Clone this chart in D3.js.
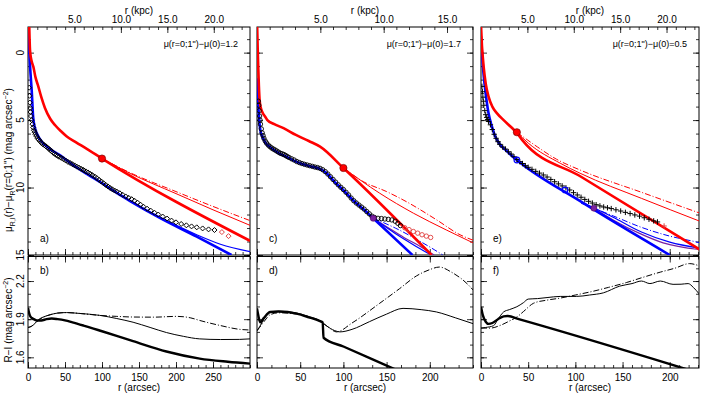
<!DOCTYPE html>
<html><head><meta charset="utf-8">
<script src="https://cdn.jsdelivr.net/npm/d3@7"></script>
<style>body{margin:0;background:#fff;} svg{display:block;font-family:"Liberation Sans",Arial,Helvetica,sans-serif;}</style>
</head><body><svg id="c" width="702" height="395"></svg>
<script>
// ---------------- DATA ----------------
// panel a (top-left) : r (arcsec), mu
const aData = [[1.5,2.6],[2,3.2],[2.5,3.7],[3,4.1],[3.5,4.4],[4,4.7],[5,5.0],[6,5.3],[7,5.55],[8,5.75],[9,5.9],[10,6.05],[11.5,6.2],[13,6.35],[14.5,6.45],[16,6.55],[18,6.68],[20,6.78],[22,6.86],[24,6.94],[26,7.02],[28,7.12],[30,7.22],[32,7.32],[34,7.42],[36,7.5],[38,7.58],[40,7.65],[42,7.72],[45,7.8],[48,7.9],[51,8.0],[54,8.1],[57,8.18],[60,8.27],[63,8.36],[66,8.45],[69,8.53],[72,8.62],[75,8.7],[78,8.8],[81,8.88],[84,8.98],[87,9.08],[90,9.18],[93,9.3],[96,9.42],[99,9.55],[102,9.68],[105,9.8],[108,9.92],[111,10.03],[114,10.13],[117,10.22],[120,10.3],[124,10.42],[128,10.54],[132,10.66],[136,10.76],[140,10.86],[144,10.98],[148,11.12],[152,11.27],[156,11.42],[161,11.57],[166,11.72],[171,11.87],[176,12.0],[182,12.15],[188,12.3],[194,12.45],[200,12.58],[207,12.7],[214,12.8],[221,12.88],[228,12.95],[236,13.03],[244,13.1],[252,13.15]];
const aDataOut = [[262,13.3],[271,13.6]];
const aRedThick = [[1.7,-1.9],[2.7,-0.2],[4,0.4],[5.5,0.75],[7.2,1.04],[10,1.8],[13.9,2.5],[18,3.3],[22.9,4.1],[30,4.9],[37,5.4],[45,5.85],[52,6.2],[65,6.65],[80,7.15],[100,7.85],[300,13.95]];
const aRedThin = [[100,7.85],[138,8.95],[200,10.45],[250,11.65],[300,12.8]];
const aRedDash = [[100,7.85],[138,8.9],[200,10.3],[250,11.4],[300,12.45]];
const aBlueThick = [[0.3,-1.9],[1.5,-0.4],[3,1.2],[5,2.8],[7,4.8],[9,5.5],[12,6.0],[16,6.4],[22,6.8],[30,7.15],[43,7.6],[60,8.3],[80,9.0],[100,9.68],[120,10.4],[138,11.0],[180,12.3],[228,13.64],[275,15.0]];
const aBlueThin = [[100,9.68],[138,11.0],[180,12.25],[228,13.5],[260,14.2],[300,14.75]];
const aBlueDash = [];
const aPurple = [];
const aDot = [100,7.85];
const aRings = [];

// panel c (top-middle)
const cData = [[1.5,3.6],[2,3.9],[2.5,4.3],[3,4.7],[3.5,5.0],[4,5.3],[5,5.65],[6,5.95],[7,6.15],[8,6.35],[9.5,6.55],[11,6.7],[13,6.85],[15,6.97],[17,7.07],[19,7.15],[21,7.22],[23,7.3],[25,7.38],[27,7.46],[29,7.5],[31,7.55],[33,7.62],[35,7.7],[37,7.77],[40,7.87],[43,7.96],[46,8.07],[49,8.15],[52,8.22],[55,8.28],[58,8.33],[61,8.38],[64,8.43],[67,8.48],[70,8.52],[73,8.58],[76,8.68],[79,8.82],[82,9.0],[85,9.2],[88,9.4],[91,9.6],[94,9.8],[97,9.98],[100,10.15],[103,10.35],[106,10.55],[109,10.78],[112,10.98],[115,11.15],[118,11.3],[121,11.45],[124,11.6],[127,11.78],[130,11.95],[133,12.12],[136,12.22],[140,12.28],[144,12.3],[148,12.33],[152,12.36],[156,12.4],[160,12.5],[163,12.65],[166,12.82]];
const cDataOut = [[171,12.98],[176,13.12],[181,13.26],[186,13.38],[191,13.5],[196,13.6],[201,13.7]];
const cRedThick = [[0.2,-1.9],[0.8,-0.3],[1.5,1.2],[2.2,2.5],[3,3.5],[4.5,4.1],[6.5,4.45],[9.5,4.75],[12,5.0],[20,5.3],[30.7,5.6],[45,6.1],[60,6.55],[73,6.97],[100,8.55],[202,15.0]];
const cRedThin = [[100,8.55],[142,10.42],[181,11.9],[219,13.14],[250,14.1]];
const cRedDash = [[100,8.55],[123,9.56],[150,10.3],[173,11.05],[208,12.4],[235,13.5],[250,13.9]];
const cBlueThick = [[0,1.9],[1,3.3],[2,4.5],[3,5.3],[4,5.8],[6,6.2],[10,6.7],[15,7.0],[25,7.45],[35,7.75],[46,8.1],[60,8.4],[73,8.62],[80,8.9],[90,9.6],[100,10.2],[112,11.0],[124,11.65],[134.5,12.28],[180,15.0]];
const cBlueThin = [[134.5,12.28],[160,13.4],[180,14.2],[200,14.95]];
const cBlueDash = [[134.5,12.28],[160,13.0],[185,13.85],[205,14.6],[215,15.0]];
const cPurple = [[134.5,12.28],[150,12.9],[170,13.7],[190,14.4],[205,15.0]];
const cDot = [100,8.55];
const cRings = [[134.5,12.28]];

// panel e (top-right)
const eData = [[1,2.5],[1.5,2.9],[2,3.3],[2.5,3.6],[3,3.9],[4,4.3],[5,4.6],[6,4.8],[7,4.95],[8,5.1],[10,5.35],[12,5.7],[14,6.05],[16,6.35],[18,6.6],[20,6.8],[23,7.0],[26,7.15],[29,7.35],[32,7.52],[35,7.72],[38,7.92],[41,8.08],[44,8.22],[47,8.38],[50,8.5],[54,8.65],[58,8.8],[62,8.93],[66,9.07],[70,9.22],[74,9.4],[78,9.57],[82,9.73],[86,9.88],[90,10.02],[94,10.18],[98,10.38],[102,10.55],[106,10.72],[110,10.88],[114,11.02],[118,11.15],[122,11.27],[126,11.36],[130,11.44],[134,11.5],[138,11.56],[143,11.65],[148,11.74],[153,11.84],[158,11.93],[163,12.03],[168,12.12],[173,12.24],[178,12.35],[183,12.47],[187,12.55]];
const eDataOut = [[194,12.85]];
const eRedThick = [[0.1,-1.9],[1,-0.5],[2,0.4],[2.8,1.04],[5,2.3],[8,3.26],[12,4.0],[17,4.5],[24,5.0],[30,5.4],[34.5,5.7],[38,5.95],[44,6.5],[106,9.2],[232,14.6]];
const eRedThin = [[38,5.9],[50,6.7],[84,8.2],[105,8.94],[170,10.8],[232,12.5]];
const eRedDash = [[38,5.9],[60,7.0],[80,7.9],[105,8.7],[170,10.35],[232,11.9]];
const eBlueThick = [[0,-1.2],[1,0.0],[2,1.0],[3,1.8],[4.5,2.77],[6,3.6],[8,4.5],[11.6,5.49],[15,6.2],[20,6.8],[26,7.2],[32,7.6],[38,7.96],[106,11.05],[200,15.0]];
const eBlueThin = [[106,11.05],[140,12.2],[170,13.3],[200,14.05],[232,14.5]];
const eBlueDash = [[106,11.16],[140,12.1],[170,12.95],[200,13.6],[226,14.0],[232,14.1]];
const ePurple = [[119.6,11.53],[140,12.4],[168,13.4],[193,14.1],[232,14.6]];
const eDot = [38,5.9];
const eRings = [[119.6,11.53]];
const eBlueRings = [[38,7.96],[89,10.18]];

// colour panels (R-I)
const bThick = [[0,1.99],[1,1.96],[2.5,1.93],[5,1.91],[8,1.9],[12,1.89],[18,1.89],[25,1.9],[32,1.905],[40,1.9],[50,1.89],[60,1.875],[75,1.85],[100,1.805],[142,1.727],[187,1.646],[232,1.59],[270,1.565],[300,1.55]];
const bThin = [[0,1.835],[5,1.845],[10,1.87],[15,1.9],[20.7,1.917],[30,1.935],[40,1.948],[52,1.952],[70,1.945],[97,1.93],[120,1.905],[142,1.876],[165,1.835],[187,1.795],[210,1.765],[232,1.745],[260,1.74],[286,1.741],[300,1.745]];
const bDash = [[0,1.835],[5,1.845],[10,1.87],[15,1.895],[20.7,1.915],[30,1.935],[40,1.948],[52,1.952],[70,1.945],[97,1.93],[120,1.922],[142,1.917],[170,1.916],[201,1.922],[220,1.91],[232,1.89],[260,1.85],[286,1.82],[300,1.815]];
const dThick = [[0,1.985],[1.5,1.93],[3.8,1.876],[8,1.91],[15.3,1.957],[25,1.96],[46,1.944],[60,1.915],[73,1.884],[76,1.875],[77,1.754],[100,1.685],[165,1.49]];
const dThin = [[0,1.809],[3,1.84],[8,1.9],[15.3,1.957],[25,1.962],[46,1.948],[60,1.92],[73,1.888],[80,1.85],[90,1.81],[96,1.80],[110,1.82],[130,1.88],[150,1.94],[169,1.985],[190,1.975],[207.6,1.957],[230,1.91],[250,1.865]];
const dDash = [[0,1.809],[3,1.835],[8,1.88],[15.3,1.935],[25,1.95],[46,1.94],[60,1.915],[73,1.885],[82,1.84],[92,1.80],[110,1.87],[142,2.025],[165,2.14],[184.5,2.24],[200,2.29],[211,2.31],[225,2.27],[246,2.16],[250,2.13]];
const fThick = [[0,1.998],[2,1.93],[5,1.88],[8,1.863],[12,1.87],[18,1.9],[24,1.922],[28,1.925],[40,1.9],[225,1.49]];
const fThin = [[0,1.83],[5,1.835],[13.3,1.849],[18,1.9],[24,1.957],[30,1.975],[38,1.998],[45,2.03],[50,2.058],[60,2.062],[70,2.07],[84,2.079],[101,2.079],[115,2.09],[129.6,2.107],[147,2.16],[160,2.18],[170,2.20],[179,2.18],[190,2.20],[203.5,2.174],[212,2.175],[219.5,2.18],[225,2.15],[231,2.1]];
const fDash = [[0,1.83],[10,1.83],[20,1.85],[30,1.885],[38,1.917],[45,1.96],[55.6,2.025],[70,2.05],[84,2.066],[100,2.09],[119,2.12],[135,2.15],[154,2.188],[172,2.23],[190,2.27],[205,2.3],[221,2.337],[231,2.32]];

const annotations = ["μ(r=0;1\")−μ(0)=1.2","μ(r=0;1\")−μ(0)=1.7","μ(r=0;1\")−μ(0)=0.5"];
const topLabels = ["a)","c)","e)"];
const botLabels = ["b)","d)","f)"];
const kpcTicks = [[5,10,15,20],[5,10,15],[5,10,15,20]];
const arcTicks = [[0,50,100,150,200,250],[0,50,100,150,200],[0,50,100,150,200]];
const muTicks = [0,5,10,15];
const riTicks = [1.6,1.9,2.2];

// ---------------- LAYOUT ----------------
const L = [
  {x0:28, x1:250, rmax:300, kpcMax:23.9, arcMinor:10, marker:"diamond"},
  {x0:257, x1:473, rmax:250, kpcMax:17.05, arcMinor:50/3, marker:"circle"},
  {x0:481, x1:699, rmax:231, kpcMax:23.5, arcMinor:10, marker:"plus"}
];
const sets = [
  {data:aData,out:aDataOut,rt:aRedThick,rn:aRedThin,rd:aRedDash,bt:aBlueThick,bn:aBlueThin,bd:aBlueDash,pu:aPurple,dot:aDot,rings:aRings,brings:[],ct:bThick,cn:bThin,cd:bDash},
  {data:cData,out:cDataOut,rt:cRedThick,rn:cRedThin,rd:cRedDash,bt:cBlueThick,bn:cBlueThin,bd:cBlueDash,pu:cPurple,dot:cDot,rings:cRings,brings:[],ct:dThick,cn:dThin,cd:dDash},
  {data:eData,out:eDataOut,rt:eRedThick,rn:eRedThin,rd:eRedDash,bt:eBlueThick,bn:eBlueThin,bd:eBlueDash,pu:ePurple,dot:eDot,rings:eRings,brings:eBlueRings,ct:fThick,cn:fThin,cd:fDash}
];
const TY0=27, TY1=255, BY0=256.5, BY1=368;
const RED="#ff0000", BLUE="#0000ff", PURPLE="#7a1fa0";
const svg = d3.select("#c");
const yT = d3.scaleLinear().domain([-1.9,15]).range([TY0,TY1]);
const yB = d3.scaleLinear().domain([1.516,2.393]).range([BY1,BY0]);
const FS = 10;

function styleAxis(g){ g.select(".domain").remove(); g.selectAll("line").attr("stroke","#000").attr("stroke-width",0.8);
  g.selectAll("text").attr("font-family","Liberation Sans, Arial, sans-serif").attr("font-size",FS).attr("fill","#000"); }

L.forEach((P,i)=>{
  const S = sets[i];
  const x = d3.scaleLinear().domain([0,P.rmax]).range([P.x0,P.x1]);
  const xk = d3.scaleLinear().domain([0,P.kpcMax]).range([P.x0,P.x1]);
  const arcMinor = d3.range(0,P.rmax+0.01,P.arcMinor);
  const kpcMinor = d3.range(0,P.kpcMax,1);
  svg.append("clipPath").attr("id","ct"+i).append("rect").attr("x",P.x0).attr("y",TY0).attr("width",P.x1-P.x0).attr("height",TY1-TY0);
  svg.append("clipPath").attr("id","cb"+i).append("rect").attr("x",P.x0).attr("y",BY0).attr("width",P.x1-P.x0).attr("height",BY1-BY0);

  const add=(ax,tr)=>styleAxis(svg.append("g").attr("transform",tr).call(ax));
  add(d3.axisBottom(x).tickValues(arcTicks[i]).tickSize(-6).tickFormat(""),`translate(0,${TY1})`);
  add(d3.axisBottom(x).tickValues(arcMinor).tickSize(-3).tickFormat(""),`translate(0,${TY1})`);
  add(d3.axisTop(xk).tickValues(kpcTicks[i]).tickSize(-6).tickPadding(4).tickFormat(d3.format(".1f")),`translate(0,${TY0})`);
  add(d3.axisTop(xk).tickValues(kpcMinor).tickSize(-3).tickFormat(""),`translate(0,${TY0})`);
  add(d3.axisLeft(yT).tickValues(muTicks).tickSize(-6).tickFormat(""),`translate(${P.x0},0)`);
  add(d3.axisLeft(yT).tickValues(d3.range(-1,15.01,1)).tickSize(-3).tickFormat(""),`translate(${P.x0},0)`);
  add(d3.axisRight(yT).tickValues(muTicks).tickSize(-6).tickFormat(""),`translate(${P.x1},0)`);
  add(d3.axisRight(yT).tickValues(d3.range(-1,15.01,1)).tickSize(-3).tickFormat(""),`translate(${P.x1},0)`);
  add(d3.axisTop(x).tickValues(arcTicks[i]).tickSize(-6).tickFormat(""),`translate(0,${BY0})`);
  add(d3.axisTop(x).tickValues(arcMinor).tickSize(-3).tickFormat(""),`translate(0,${BY0})`);
  add(d3.axisBottom(x).tickValues(arcTicks[i]).tickSize(-6).tickPadding(6).tickFormat(d3.format("d")),`translate(0,${BY1})`);
  add(d3.axisBottom(x).tickValues(arcMinor).tickSize(-3).tickFormat(""),`translate(0,${BY1})`);
  add(d3.axisLeft(yB).tickValues(riTicks).tickSize(-6).tickFormat(""),`translate(${P.x0},0)`);
  add(d3.axisLeft(yB).tickValues(d3.range(1.6,2.35,0.1)).tickSize(-3).tickFormat(""),`translate(${P.x0},0)`);
  add(d3.axisRight(yB).tickValues(riTicks).tickSize(-6).tickFormat(""),`translate(${P.x1},0)`);
  add(d3.axisRight(yB).tickValues(d3.range(1.6,2.35,0.1)).tickSize(-3).tickFormat(""),`translate(${P.x1},0)`);

  svg.append("rect").attr("x",P.x0).attr("y",TY0).attr("width",P.x1-P.x0).attr("height",TY1-TY0).attr("fill","none").attr("stroke","#000").attr("stroke-width",1);
  svg.append("rect").attr("x",P.x0).attr("y",BY0).attr("width",P.x1-P.x0).attr("height",BY1-BY0).attr("fill","none").attr("stroke","#000").attr("stroke-width",1);

  svg.append("text").attr("x",(P.x0+P.x1)/2).attr("y",14).attr("text-anchor","middle").attr("font-size",FS).text("r (kpc)");
  svg.append("text").attr("x",(P.x0+P.x1)/2).attr("y",391).attr("text-anchor","middle").attr("font-size",FS).text("r (arcsec)");
  svg.append("text").attr("x",P.x1-12).attr("y",47).attr("text-anchor","end").attr("font-size",9).text(annotations[i]);
  svg.append("text").attr("x",P.x0+12).attr("y",242).attr("font-size",FS).text(topLabels[i]);
  svg.append("text").attr("x",P.x0+12).attr("y",274).attr("font-size",FS).text(botLabels[i]);

  const gT = svg.append("g").attr("clip-path",`url(#ct${i})`);
  const lineT = d3.line().x(d=>x(d[0])).y(d=>yT(d[1])).curve(d3.curveMonotoneX);
  const drawT=(arr,col,w,dash)=>{ if(!arr.length) return; gT.append("path").attr("d",lineT(arr)).attr("fill","none").attr("stroke",col).attr("stroke-width",w).attr("stroke-dasharray",dash||null); };
  drawT(S.rd,RED,1,"6,2,1,2");
  drawT(S.rn,RED,1);
  drawT(S.bd,BLUE,1,"6,2,1,2");
  drawT(S.pu,PURPLE,1.2);
  drawT(S.bn,BLUE,1.2);
  drawT(S.bt,BLUE,2.6);
  drawT(S.rt,RED,2.6);
  const mk = (g,pts,col)=>{
    pts.forEach(d=>{
      const px=x(d[0]), py=yT(d[1]);
      if(P.marker==="diamond") g.append("path").attr("d",`M${px},${py-2.5}L${px+2.5},${py}L${px},${py+2.5}L${px-2.5},${py}Z`).attr("fill","none").attr("stroke",col).attr("stroke-width",1);
      else if(P.marker==="circle") g.append("circle").attr("cx",px).attr("cy",py).attr("r",2.2).attr("fill","none").attr("stroke",col).attr("stroke-width",0.9);
      else g.append("path").attr("d",`M${px-2.7},${py}H${px+2.7}M${px},${py-2.7}V${py+2.7}`).attr("stroke",col).attr("stroke-width",1);
    });
  };
  mk(gT,S.data,"#000");
  mk(gT,S.out,"#e04040");
  S.rings.forEach(d=>gT.append("circle").attr("cx",x(d[0])).attr("cy",yT(d[1])).attr("r",3).attr("fill",PURPLE).attr("stroke","#4a0060").attr("stroke-width",0.6));
  S.brings.forEach(d=>gT.append("circle").attr("cx",x(d[0])).attr("cy",yT(d[1])).attr("r",2.8).attr("fill","none").attr("stroke",BLUE).attr("stroke-width",1.2));
  gT.append("circle").attr("cx",x(S.dot[0])).attr("cy",yT(S.dot[1])).attr("r",3.6).attr("fill",RED).attr("stroke","#700").attr("stroke-width",0.7);

  const gB = svg.append("g").attr("clip-path",`url(#cb${i})`);
  const lineB = d3.line().x(d=>x(d[0])).y(d=>yB(d[1])).curve(d3.curveMonotoneX);
  gB.append("path").attr("d",lineB(S.cd)).attr("fill","none").attr("stroke","#000").attr("stroke-width",1).attr("stroke-dasharray","6,2,1,2");
  gB.append("path").attr("d",lineB(S.cn)).attr("fill","none").attr("stroke","#000").attr("stroke-width",1);
  gB.append("path").attr("d",lineB(S.ct)).attr("fill","none").attr("stroke","#000").attr("stroke-width",2.4);

  if(i===0){
    muTicks.forEach(v=>svg.append("text").attr("transform",`translate(24,${yT(v)}) rotate(-90)`).attr("text-anchor","middle").attr("font-size",FS).text(v));
    riTicks.forEach(v=>svg.append("text").attr("transform",`translate(24,${yB(v)}) rotate(-90)`).attr("text-anchor","middle").attr("font-size",FS).text(v.toFixed(1)));
  }
});

const t1 = svg.append("text").attr("transform","translate(12,160) rotate(-90)").attr("text-anchor","middle").attr("font-size",FS);
t1.append("tspan").text("μ");
t1.append("tspan").attr("dy",2.5).attr("font-size",7).text("R,I");
t1.append("tspan").attr("dy",-2.5).text("(r)−μ");
t1.append("tspan").attr("dy",2.5).attr("font-size",7).text("R");
t1.append("tspan").attr("dy",-2.5).text("(r=0;1\") (mag arcsec");
t1.append("tspan").attr("dy",-4).attr("font-size",7).text("−2");
t1.append("tspan").attr("dy",4).text(")");
const t2 = svg.append("text").attr("transform","translate(12,320) rotate(-90)").attr("text-anchor","middle").attr("font-size",FS);
t2.append("tspan").text("R−I (mag arcsec");
t2.append("tspan").attr("dy",-4).attr("font-size",7).text("−2");
t2.append("tspan").attr("dy",4).text(")");
</script></body></html>
